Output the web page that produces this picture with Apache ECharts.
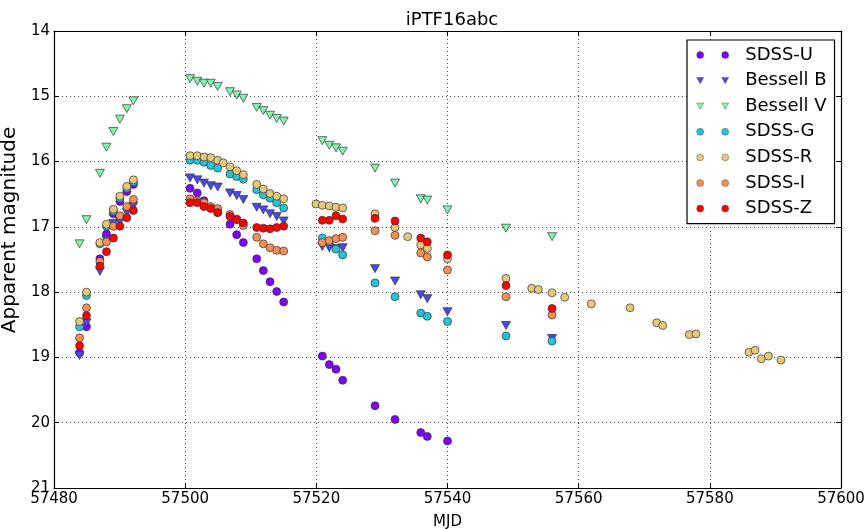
<!DOCTYPE html>
<html>
<head>
<meta charset="utf-8">
<script src="https://cdn.jsdelivr.net/npm/echarts@6/dist/echarts.min.js"></script>
<style>
  html, body { margin: 0; padding: 0; background: #fff; }
  #chart { width: 866px; height: 529px; }
</style>
</head>
<body>
<div id="chart"></div>
<script>
// Light curve of iPTF16abc: observation epochs (MJD) and apparent magnitudes per band
const uDays = [57483.9, 57484.95, 57487.0, 57488.0, 57489.05, 57490.05, 57491.1, 57492.1,
  57500.74, 57501.85, 57502.87, 57503.9, 57504.96, 57506.84, 57507.86, 57508.87, 57510.91, 57511.92, 57512.94, 57513.96, 57515.02,
  57520.91, 57521.98, 57523.0, 57524.02, 57528.95, 57532.0, 57535.92, 57536.92, 57540.0];
const uMags = [18.93, 18.53, 17.49, 17.11, 16.80, 16.61, 16.46, 16.35,
  16.41, 16.48, 16.60, 16.70, 16.78, 16.96, 17.12, 17.24, 17.49, 17.67, 17.84, 17.99, 18.15,
  18.98, 19.11, 19.18, 19.35, 19.74, 19.95, 20.15, 20.21, 20.28];

const bDays = [57483.9, 57484.95, 57487.0, 57488.0, 57489.05, 57490.05, 57491.1, 57492.1,
  57500.74, 57501.85, 57502.87, 57503.9, 57504.96, 57506.84, 57507.86, 57508.87, 57510.91, 57511.92, 57512.94, 57513.96, 57515.02,
  57520.91, 57521.98, 57523.0, 57524.02, 57528.95, 57532.0, 57535.92, 57536.92, 57540.0, 57548.92, 57555.94];
const bMags = [18.97, 18.47, 17.68, 17.20, 16.95, 16.92, 16.78, 16.68,
  16.25, 16.28, 16.33, 16.37, 16.39, 16.48, 16.52, 16.58, 16.70, 16.74, 16.80, 16.84, 16.91,
  17.30, 17.32, 17.33, 17.32, 17.64, 17.83, 18.04, 18.10, 18.30, 18.51, 18.71];

const vDays = [57483.9, 57484.95, 57487.0, 57488.0, 57489.05, 57490.05, 57491.1, 57492.1,
  57500.74, 57501.85, 57502.87, 57503.9, 57504.96, 57506.84, 57507.86, 57508.87, 57510.91, 57511.92, 57512.94, 57513.96, 57515.02,
  57520.91, 57521.98, 57523.0, 57524.02, 57528.95, 57532.0, 57535.92, 57536.92, 57540.0, 57548.92, 57555.94];
const vMags = [17.26, 16.89, 16.18, 15.78, 15.54, 15.35, 15.19, 15.07,
  14.73, 14.77, 14.80, 14.80, 14.85, 14.93, 14.98, 15.03, 15.17, 15.22, 15.29, 15.34, 15.38,
  15.68, 15.75, 15.79, 15.84, 16.10, 16.33, 16.57, 16.59, 16.74, 17.02, 17.15];

const gDays = [57483.9, 57484.95, 57487.0, 57488.0, 57489.05, 57490.05, 57491.1, 57492.1,
  57500.74, 57501.85, 57502.87, 57503.9, 57504.96, 57506.84, 57507.86, 57508.87, 57510.91, 57511.92, 57512.94, 57513.96, 57515.02,
  57520.91, 57521.98, 57523.0, 57524.02, 57528.95, 57532.0, 57535.92, 57536.92, 57540.0, 57548.92, 57555.94];
const gMags = [18.53, 18.05, 17.26, 16.99, 16.76, 16.56, 16.41, 16.31,
  15.98, 15.98, 16.01, 16.06, 16.10, 16.19, 16.23, 16.27, 16.43, 16.51, 16.56, 16.63, 16.71,
  17.17, 17.23, 17.34, 17.43, 17.86, 18.07, 18.32, 18.37, 18.45, 18.67, 18.75];

const rDays = [57483.9, 57484.95, 57487.0, 57488.0, 57489.05, 57490.05, 57491.1, 57492.1,
  57500.74, 57501.85, 57502.87, 57503.9, 57504.96, 57505.81, 57506.84, 57507.86, 57508.87, 57510.91, 57511.92, 57512.94, 57513.96, 57515.02,
  57519.95, 57520.91, 57521.98, 57523.0, 57524.02, 57528.95, 57532.0, 57533.93, 57535.92, 57536.92, 57540.0,
  57548.92, 57552.84, 57553.85, 57555.94, 57557.87, 57561.93, 57567.83, 57571.9, 57572.81, 57576.87, 57577.89,
  57585.97, 57586.89, 57587.85, 57588.92, 57590.85];
const rMags = [18.45, 18.00, 17.24, 16.96, 16.73, 16.53, 16.38, 16.28,
  15.91, 15.91, 15.93, 15.94, 15.98, 16.02, 16.08, 16.14, 16.20, 16.35, 16.42, 16.49, 16.53, 16.57,
  16.65, 16.67, 16.68, 16.70, 16.71, 16.80, 17.01, 17.15, 17.28, 17.33, 17.49,
  17.79, 17.94, 17.96, 18.01, 18.08, 18.18, 18.24, 18.47, 18.51, 18.65, 18.64,
  18.92, 18.89, 19.02, 18.98, 19.04];

const iDays = [57483.9, 57484.95, 57487.0, 57488.0, 57489.05, 57490.05, 57491.1, 57492.1,
  57500.74, 57501.85, 57502.87, 57503.9, 57504.96, 57506.84, 57507.86, 57508.87, 57510.91, 57511.92, 57512.94, 57513.96, 57515.02,
  57520.91, 57521.98, 57523.0, 57524.02, 57528.95, 57532.0, 57535.92, 57536.92, 57540.0, 57548.92, 57555.94];
const iMags = [18.70, 18.24, 17.53, 17.23, 16.99, 16.83, 16.69, 16.58,
  16.57, 16.60, 16.63, 16.69, 16.72, 16.81, 16.88, 16.98, 17.16, 17.26, 17.32, 17.36, 17.37,
  17.24, 17.21, 17.18, 17.16, 17.06, 17.13, 17.40, 17.46, 17.66, 18.07, 18.35];

const zDays = [57483.9, 57484.95, 57487.0, 57488.0, 57489.05, 57490.05, 57491.1, 57492.1,
  57500.74, 57501.85, 57502.87, 57503.9, 57504.96, 57506.84, 57507.86, 57508.87, 57510.91, 57511.92, 57512.94, 57513.96, 57515.02,
  57520.91, 57521.98, 57523.0, 57524.02, 57528.95, 57532.0, 57535.92, 57536.92, 57540.0, 57548.92, 57555.94];
const zMags = [18.82, 18.36, 17.60, 17.38, 17.17, 16.99, 16.86, 16.75,
  16.63, 16.63, 16.69, 16.72, 16.78, 16.84, 16.89, 16.94, 17.01, 17.02, 17.03, 17.01, 16.99,
  16.90, 16.90, 16.83, 16.88, 16.87, 16.91, 17.17, 17.23, 17.43, 17.90, 18.25];

const bandNames = ['SDSS-U', 'Bessell B', 'Bessell V', 'SDSS-G', 'SDSS-R', 'SDSS-I', 'SDSS-Z'];
const bandColors = ['#8000ff', '#4848ee', '#80f5b0', '#22c4da', '#e6c878', '#f78e52', '#ff0000'];
const xTicks = [57480, 57500, 57520, 57540, 57560, 57580, 57600];
const yTicks = [14, 15, 16, 17, 18, 19, 20, 21];

const bandDays = [uDays, bDays, vDays, gDays, rDays, iDays, zDays];
const bandMags = [uMags, bMags, vMags, gMags, rMags, iMags, zMags];

const FONT = 'DejaVu Sans';
const CIRCLE = 'circle';
const TRIANGLE = 'path://M0,0L10,0L5,9Z';
// legend icons: two markers side by side, as in a two-point legend
const LEG_CIRCLE = 'path://M0,0M44,8M7.5,4A3.5,3.5,0,1,1,0.5,4A3.5,3.5,0,1,1,7.5,4ZM32.5,4A3.5,3.5,0,1,1,25.5,4A3.5,3.5,0,1,1,32.5,4Z';
const LEG_TRIANGLE = 'path://M0,0M44,8M0.5,0.8L7.5,0.8L4,7.2ZM25.5,0.8L32.5,0.8L29,7.2Z';

const isTriangle = (name) => name.startsWith('Bessell');

const series = bandNames.map((name, k) => ({
  name,
  type: 'scatter',
  data: bandDays[k].map((d, j) => [d, bandMags[k][j]]),
  symbol: isTriangle(name) ? TRIANGLE : CIRCLE,
  symbolSize: isTriangle(name) ? [9, 8] : 8,
  itemStyle: { color: bandColors[k], borderColor: '#333', borderWidth: 0.7, opacity: 1 },
  emphasis: { disabled: true },
  z: 2 + k
}));

const dotted = { color: '#444', width: 1, type: [1, 3] };
const frameLine = { show: true, lineStyle: { color: '#000', width: 1.2 } };

const chart = echarts.init(document.getElementById('chart'), null, { renderer: 'canvas' });
chart.setOption({
  animation: false,
  backgroundColor: '#fff',
  title: {
    text: 'iPTF16abc', left: 447, top: 6, textAlign: 'center',
    textStyle: { fontFamily: FONT, fontSize: 18, fontWeight: 'normal', color: '#000' }
  },
  grid: { left: 54, right: 25, top: 31, bottom: 41, containLabel: false, outerBoundsMode: 'none' },
  legend: {
    orient: 'vertical', left: 687, top: 40,
    padding: [6, 8, 6, 9],
    backgroundColor: '#fff', borderColor: '#000', borderWidth: 1.2, borderRadius: 0,
    itemWidth: 44, itemHeight: 8, itemGap: 7.6,
    selectedMode: false,
    itemStyle: { borderColor: '#444', borderWidth: 0.4 },
    textStyle: { fontFamily: FONT, fontSize: 18, color: '#000', lineHeight: 18 },
    data: bandNames.map(n => ({ name: n, icon: isTriangle(n) ? LEG_TRIANGLE : LEG_CIRCLE }))
  },
  xAxis: [{
    type: 'value', min: xTicks[0], max: xTicks[xTicks.length - 1], interval: 20,
    name: 'MJD', nameLocation: 'middle', nameGap: 27,
    nameTextStyle: { fontFamily: FONT, fontSize: 15, color: '#000' },
    axisLine: frameLine,
    axisTick: { inside: true, length: 5, lineStyle: { color: '#000' } },
    axisLabel: { fontFamily: FONT, fontSize: 15, color: '#000', margin: 4, formatter: v => String(v) },
    splitLine: { show: true, lineStyle: dotted }
  }, {
    type: 'value', position: 'top', min: xTicks[0], max: xTicks[xTicks.length - 1], interval: 20,
    axisLine: frameLine,
    axisTick: { inside: true, length: 5, lineStyle: { color: '#000' } },
    axisLabel: { show: false }, splitLine: { show: false }
  }],
  yAxis: [{
    type: 'value', inverse: true, min: yTicks[0], max: yTicks[yTicks.length - 1], interval: 1,
    name: 'Apparent magnitude', nameLocation: 'middle', nameGap: 27,
    nameTextStyle: { fontFamily: FONT, fontSize: 20, color: '#000', padding: [0, 0, 0, 59] },
    axisLine: frameLine,
    axisTick: { inside: true, length: 5, lineStyle: { color: '#000' } },
    axisLabel: { fontFamily: FONT, fontSize: 15, color: '#000', margin: 4 },
    splitLine: { show: true, lineStyle: dotted }
  }, {
    type: 'value', position: 'right', inverse: true, min: yTicks[0], max: yTicks[yTicks.length - 1], interval: 1,
    axisLine: frameLine,
    axisTick: { inside: true, length: 5, lineStyle: { color: '#000' } },
    axisLabel: { show: false }, splitLine: { show: false }
  }],
  series
});
</script>
</body>
</html>
